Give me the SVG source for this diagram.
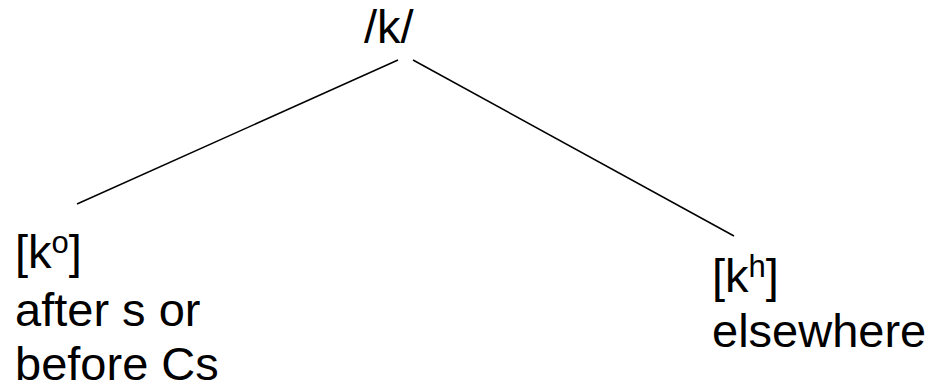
<svg xmlns="http://www.w3.org/2000/svg" width="930" height="386" viewBox="0 0 930 386">
  <style>
    text { font-family: "Liberation Sans", Arial, sans-serif; font-size: 47px; fill: #000; }
    .sup { font-size: 31px; }
    .edge { stroke: #000; stroke-width: 1.5; fill: none; }
  </style>
  <rect width="930" height="386" fill="#fff"/>
  <g id="edges">
    <line class="edge" x1="398" y1="60" x2="77" y2="204"/>
    <line class="edge" x1="413" y1="60" x2="734" y2="236"/>
  </g>
  <g id="root">
    <text x="364" y="43">/k/</text>
  </g>
  <g id="left">
    <text x="15" y="268">[k<tspan class="sup" dy="-15">o</tspan><tspan dy="15">]</tspan></text>
    <text x="15" y="326">after s or</text>
    <text x="15" y="380">before Cs</text>
  </g>
  <g id="right">
    <text x="712" y="292">[k<tspan class="sup" dy="-15">h</tspan><tspan dy="15">]</tspan></text>
    <text x="712" y="347">elsewhere</text>
  </g>
</svg>
